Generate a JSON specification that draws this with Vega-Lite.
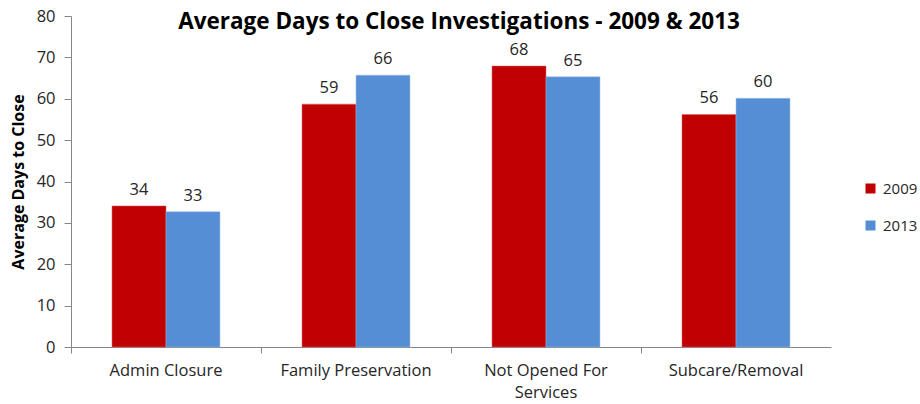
{
  "$schema": "https://vega.github.io/schema/vega-lite/v6.json",
  "autosize": {"type": "none"},
  "padding": {"left": 71, "top": 16, "right": 89, "bottom": 57},
  "width": 760,
  "height": 331,
  "background": "white",
  "title": {
    "text": "Average Days to Close Investigations - 2009 & 2013",
    "font": "Open Sans",
    "fontSize": 22.5,
    "fontWeight": "bold",
    "color": "#000000",
    "anchor": "middle",
    "frame": "group",
    "offset": -25,
    "dx": 8
  },
  "data": {
    "values": [
      {"category": "Admin Closure", "year": "2009", "days": 34.1},
      {"category": "Admin Closure", "year": "2013", "days": 32.7},
      {"category": "Family Preservation", "year": "2009", "days": 58.7},
      {"category": "Family Preservation", "year": "2013", "days": 65.7},
      {"category": "Not Opened For Services", "year": "2009", "days": 67.9},
      {"category": "Not Opened For Services", "year": "2013", "days": 65.3},
      {"category": "Subcare/Removal", "year": "2009", "days": 56.2},
      {"category": "Subcare/Removal", "year": "2013", "days": 60.1}
    ]
  },
  "encoding": {
    "x": {
      "field": "category",
      "type": "nominal",
      "sort": null,
      "scale": {"paddingInner": 0, "paddingOuter": 0},
      "axis": {
        "title": null,
        "labelAngle": 0,
        "bandPosition": 0,
        "domainColor": "#868686",
        "tickColor": "#868686",
        "tickSize": 6,
        "labelPadding": 9,
        "labelFont": "Open Sans",
        "labelFontSize": 16.5,
        "labelColor": "#262626",
        "labelLineHeight": 22,
        "labelExpr": "datum.label == 'Not Opened For Services' ? ['Not Opened For', 'Services'] : datum.label"
      }
    },
    "xOffset": {
      "field": "year",
      "type": "nominal",
      "scale": {"paddingInner": 0, "paddingOuter": 0.76}
    },
    "y": {
      "field": "days",
      "type": "quantitative",
      "scale": {"domain": [0, 80]},
      "axis": {
        "title": "Average Days to Close",
        "titleFont": "Open Sans",
        "titleFontSize": 16,
        "titleFontWeight": "bold",
        "titleColor": "#000000",
        "titlePadding": 10,
        "values": [0, 10, 20, 30, 40, 50, 60, 70, 80],
        "grid": false,
        "domainColor": "#868686",
        "tickColor": "#868686",
        "tickSize": 7,
        "labelPadding": 9,
        "labelFont": "Open Sans",
        "labelFontSize": 16.5,
        "labelColor": "#262626"
      }
    }
  },
  "layer": [
    {
      "mark": {"type": "bar", "strokeWidth": 1, "strokeOpacity": 0.5},
      "encoding": {
        "color": {
          "field": "year",
          "type": "nominal",
          "scale": {"domain": ["2009", "2013"], "range": ["#C00000", "#558ED5"]},
          "legend": {
            "title": null,
            "orient": "none",
            "legendX": 792,
            "legendY": 165,
            "symbolType": "square",
            "symbolSize": 100,
            "symbolStrokeWidth": 0,
            "labelFont": "Open Sans",
            "labelFontSize": 15,
            "labelColor": "#262626",
            "rowPadding": 21,
            "labelOffset": 5
          }
        },
        "stroke": {
          "field": "year",
          "type": "nominal",
          "scale": {"domain": ["2009", "2013"], "range": ["#E06060", "#9DBDEA"]},
          "legend": null
        }
      }
    },
    {
      "mark": {
        "type": "text",
        "baseline": "bottom",
        "dy": -8,
        "font": "Open Sans",
        "fontSize": 16.5,
        "color": "#262626"
      },
      "encoding": {
        "text": {"field": "days", "type": "quantitative", "format": ".0f"}
      }
    }
  ],
  "config": {
    "view": {"stroke": null}
  }
}
